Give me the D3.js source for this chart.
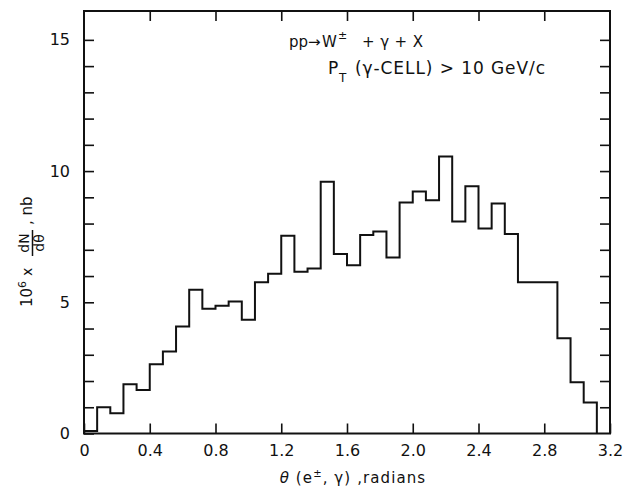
<!DOCTYPE html>
<html>
<head>
<meta charset="utf-8">
<script src="https://cdn.jsdelivr.net/npm/d3@7"></script>
<style>
  html, body { margin: 0; padding: 0; background: #fff; }
  svg { display: block; }
  text { font-family: "DejaVu Sans", sans-serif; fill: #111; }
</style>
</head>
<body>
<svg id="chart" width="625" height="492"></svg>
<script>
// Opening angle between the charged lepton and the photon, 0.08 rad bins
const binLow = [0.00, 0.08, 0.16, 0.24, 0.32, 0.40, 0.48, 0.56, 0.64, 0.72,
                0.80, 0.88, 0.96, 1.04, 1.12, 1.20, 1.28, 1.36, 1.44, 1.52,
                1.60, 1.68, 1.76, 1.84, 1.92, 2.00, 2.08, 2.16, 2.24, 2.32,
                2.40, 2.48, 2.56, 2.64, 2.72, 2.80, 2.88, 2.96, 3.04];
const binWidth = 0.08;
// 10^6 x dN/dθ (nb) per bin
const dNdTheta = [0.10, 1.00, 0.77, 1.88, 1.66, 2.64, 3.12, 4.08, 5.48, 4.75,
                  4.87, 5.03, 4.33, 5.76, 6.09, 7.54, 6.16, 6.29, 9.59, 6.84,
                  6.41, 7.56, 7.70, 6.71, 8.80, 9.22, 8.89, 10.56, 8.08, 9.42,
                  7.81, 8.76, 7.60, 5.76, 5.76, 5.76, 3.63, 1.95, 1.18];

const xTickValues = [0, 0.4, 0.8, 1.2, 1.6, 2.0, 2.4, 2.8, 3.2];
const xTickLabels = ["0", "0.4", "0.8", "1.2", "1.6", "2.0", "2.4", "2.8", "3.2"];
const yTickValues = [0, 1, 2, 3, 4, 5, 6, 7, 8, 9, 10, 11, 12, 13, 14, 15];
const yMajorValues = [0, 5, 10, 15];
const yMajorLabels = ["0", "5", "10", "15"];

const xMax = 3.2, yMax = 16.1;
const ink = "#111";

const x = d3.scaleLinear().domain([0, xMax]).range([84, 610]);
const y = d3.scaleLinear().domain([0, yMax]).range([433.5, 11]);

const svg = d3.select("#chart");

// Axis ticks: all pointing into the frame
function styleAxis(g) {
  g.attr("color", ink).attr("font-size", 16);
  g.select(".domain").remove();
  g.selectAll(".tick line").attr("stroke-width", 1.6);
}

svg.append("g")
  .attr("transform", `translate(0,${y(0)})`)
  .call(d3.axisBottom(x).tickValues(xTickValues)
    .tickFormat((d, i) => xTickLabels[i])
    .tickSizeInner(-10).tickSizeOuter(0).tickPadding(11))
  .call(styleAxis);

svg.append("g")
  .attr("transform", `translate(0,${y(yMax)})`)
  .call(d3.axisTop(x).tickValues(xTickValues.slice(1, -1))
    .tickFormat("").tickSizeInner(-10).tickSizeOuter(0))
  .call(styleAxis);

svg.append("g")
  .attr("transform", `translate(${x(0)},0)`)
  .call(d3.axisLeft(y).tickValues(yTickValues)
    .tickFormat(d => {
      const k = yMajorValues.indexOf(d);
      return k >= 0 ? yMajorLabels[k] : "";
    })
    .tickSizeInner(-10).tickSizeOuter(0).tickPadding(14))
  .call(styleAxis);

svg.append("g")
  .attr("transform", `translate(${x(xMax)},0)`)
  .call(d3.axisRight(y).tickValues(yTickValues.slice(1))
    .tickFormat("").tickSizeInner(-10).tickSizeOuter(0))
  .call(styleAxis);

// Frame
svg.append("rect")
  .attr("x", x(0)).attr("y", y(yMax))
  .attr("width", x(xMax) - x(0)).attr("height", y(0) - y(yMax))
  .attr("fill", "none").attr("stroke", ink).attr("stroke-width", 2);

// Histogram outline
const steps = [[0, 0]]
  .concat(binLow.map((b, i) => [b, dNdTheta[i]]))
  .concat([[binLow[binLow.length - 1] + binWidth, 0]]);

svg.append("path")
  .datum(steps)
  .attr("fill", "none")
  .attr("stroke", ink)
  .attr("stroke-width", 2)
  .attr("stroke-linejoin", "miter")
  .attr("d", d3.line().x(d => x(d[0])).y(d => y(d[1])).curve(d3.curveStepAfter));

// Process label
const note = svg.append("g");
note.append("text").attr("x", 289).attr("y", 47).attr("font-size", 15).text("pp");
note.append("text").attr("x", 308).attr("y", 47).attr("font-size", 15).text("→");
note.append("text").attr("x", 322).attr("y", 47).attr("font-size", 15).text("W");
note.append("text").attr("x", 338).attr("y", 39).attr("font-size", 11).text("±");
note.append("text").attr("x", 362).attr("y", 47).attr("font-size", 15)
  .attr("textLength", 61).attr("lengthAdjust", "spacing").text("+ γ + X");

note.append("text").attr("x", 328).attr("y", 74).attr("font-size", 17).text("P");
note.append("text").attr("x", 339).attr("y", 82).attr("font-size", 12).text("T");
note.append("text").attr("x", 355).attr("y", 74).attr("font-size", 17)
  .attr("textLength", 190).attr("lengthAdjust", "spacing").text("(γ-CELL) > 10 GeV/c");

// X axis title
const xt = svg.append("text")
  .attr("x", 353).attr("y", 483)
  .attr("text-anchor", "middle")
  .attr("font-size", 15)
  .attr("letter-spacing", 1.1);
xt.append("tspan").attr("font-style", "italic").text("θ");
xt.append("tspan").text(" (e");
xt.append("tspan").attr("font-size", 10).attr("dy", -6).text("±");
xt.append("tspan").attr("dy", 6).text(", γ) ,radians");

// Y axis title, written bottom-to-top
const yt = svg.append("g").attr("transform", "translate(31.5,307) rotate(-90)");
yt.append("text").attr("x", 0).attr("y", 0).attr("font-size", 15).text("10");
yt.append("text").attr("x", 19).attr("y", -6).attr("font-size", 11).text("6");
yt.append("text").attr("x", 31).attr("y", 0).attr("font-size", 14).text("x");
yt.append("text").attr("x", 64).attr("y", -2.5).attr("font-size", 14)
  .attr("text-anchor", "middle").text("dN");
yt.append("line").attr("x1", 51).attr("x2", 77).attr("y1", 1).attr("y2", 1)
  .attr("stroke", ink).attr("stroke-width", 1.5);
yt.append("text").attr("x", 64).attr("y", 12.5).attr("font-size", 14)
  .attr("text-anchor", "middle").text("dθ");
yt.append("text").attr("x", 82).attr("y", 0).attr("font-size", 15).text(", nb");
</script>
</body>
</html>
